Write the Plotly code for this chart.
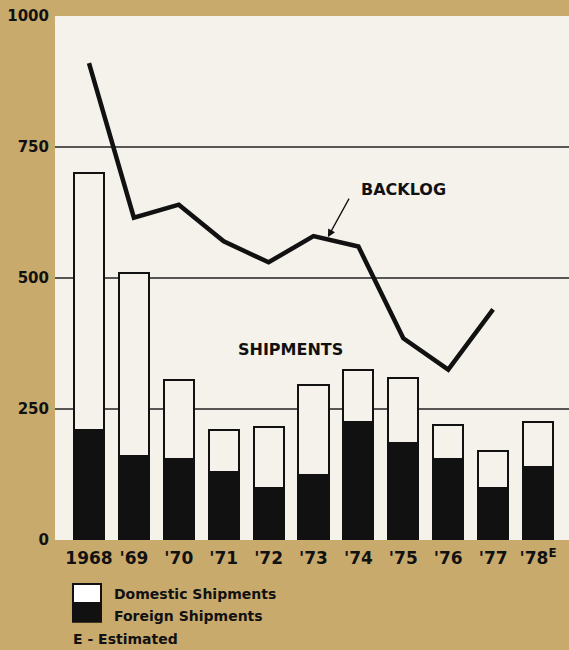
import plotly.graph_objects as go


# ── 데이터 ──────────────────────────────────────────────────────────────────
YEARS = ["1968", "'69", "'70", "'71", "'72", "'73", "'74", "'75", "'76", "'77", "'78<sup>E</sup>"]
FOREIGN = [210, 160, 155, 130, 100, 125, 225, 185, 155, 100, 140]
DOMESTIC = [490, 350, 150, 80, 115, 170, 100, 125, 65, 70, 85]
BACKLOG = [910, 615, 640, 570, 530, 580, 560, 385, 325, 440]   # '78 없음
Y_TICKS = [0, 250, 500, 750, 1000]
GRID_AT = [250, 500, 750]

# ── 색상 ────────────────────────────────────────────────────────────────────
PALETTE = {
    "paper": "#c9aa6d",   # 스캔된 황갈색 배경
    "panel": "#f5f2ec",   # 차트 패널
    "ink":   "#111111",
}
FONT = "DejaVu Sans"

xs = list(range(len(YEARS)))

fig = go.Figure()
fig.add_trace(go.Bar(
    x=xs, y=FOREIGN, name="Foreign Shipments",
    marker=dict(color=PALETTE["ink"], line=dict(color=PALETTE["ink"], width=2)),
    width=0.67,
))
fig.add_trace(go.Bar(
    x=xs, y=DOMESTIC, name="Domestic Shipments",
    marker=dict(color=PALETTE["panel"], line=dict(color=PALETTE["ink"], width=2)),
    width=0.67,
))
fig.add_trace(go.Scatter(
    x=xs[:len(BACKLOG)], y=BACKLOG, name="Backlog",
    mode="lines",
    line=dict(color=PALETTE["ink"], width=4.5),
))

# 가로 기준선 (막대 뒤)
for v in GRID_AT:
    fig.add_shape(type="line", xref="paper", x0=0, x1=1, yref="y", y0=v, y1=v,
                  line=dict(color="#222", width=1.6), layer="below")

# 범례 상자: 위 흰색, 아래 검정
fig.add_shape(type="rect", xref="paper", yref="paper",
              x0=0.035, x1=0.0895, y0=-0.120, y1=-0.084,
              fillcolor="white", line=dict(color=PALETTE["ink"], width=2))
fig.add_shape(type="rect", xref="paper", yref="paper",
              x0=0.035, x1=0.0895, y0=-0.156, y1=-0.120,
              fillcolor=PALETTE["ink"], line=dict(color=PALETTE["ink"], width=2))

note_font = dict(family=FONT, size=14, color=PALETTE["ink"])
fig.add_annotation(xref="paper", yref="paper", x=0.111, y=-0.103,
                   text="<b>Domestic Shipments</b>", showarrow=False,
                   xanchor="left", yanchor="middle", font=note_font)
fig.add_annotation(xref="paper", yref="paper", x=0.111, y=-0.145,
                   text="<b>Foreign Shipments</b>", showarrow=False,
                   xanchor="left", yanchor="middle", font=note_font)
fig.add_annotation(xref="paper", yref="paper", x=0.031, y=-0.208,
                   text="<b>E - Estimated</b>", showarrow=False,
                   xanchor="left", yanchor="bottom", font=note_font)

label_font = dict(family=FONT, size=16, color=PALETTE["ink"])
# 화살표: '73 꺾임점 근처를 가리킴
fig.add_annotation(x=5.32, y=578, ax=22, ay=-40,
                   text="", showarrow=True, arrowhead=2,
                   arrowsize=1.2, arrowwidth=1.3, arrowcolor=PALETTE["ink"])
fig.add_annotation(x=7.0, y=668, text="<b>BACKLOG</b>", showarrow=False,
                   font=label_font)
fig.add_annotation(x=4.48, y=363, text="<b>SHIPMENTS</b>", showarrow=False,
                   font=label_font)

fig.update_layout(
    width=569, height=650,
    barmode="stack",
    showlegend=False,
    paper_bgcolor=PALETTE["paper"],
    plot_bgcolor=PALETTE["panel"],
    margin=dict(l=55, r=0, t=16, b=110),
    font=dict(family=FONT, color=PALETTE["ink"]),
    xaxis=dict(
        range=[-0.757, 10.69],
        tickvals=xs,
        ticktext=[f"<b>{y}</b>" for y in YEARS],
        tickfont=dict(family=FONT, size=17, color=PALETTE["ink"]),
        showgrid=False, zeroline=False, showline=False,
        ticks="", ticklabelstandoff=6,
    ),
    yaxis=dict(
        range=[0, 1000],
        tickvals=Y_TICKS,
        ticktext=[f"<b>{v}</b>" for v in Y_TICKS],
        tickfont=dict(family=FONT, size=15, color=PALETTE["ink"]),
        showgrid=False, zeroline=False, showline=False,
        ticks="", ticklabelstandoff=5,
    ),
)

# 페이지 기본 여백 제거, 툴바 숨김
fig.write_html(
    "out.html",
    config={"displayModeBar": False},
    post_script="document.body.style.margin='0';"
                "document.body.style.background='%s';" % PALETTE["paper"],
)
